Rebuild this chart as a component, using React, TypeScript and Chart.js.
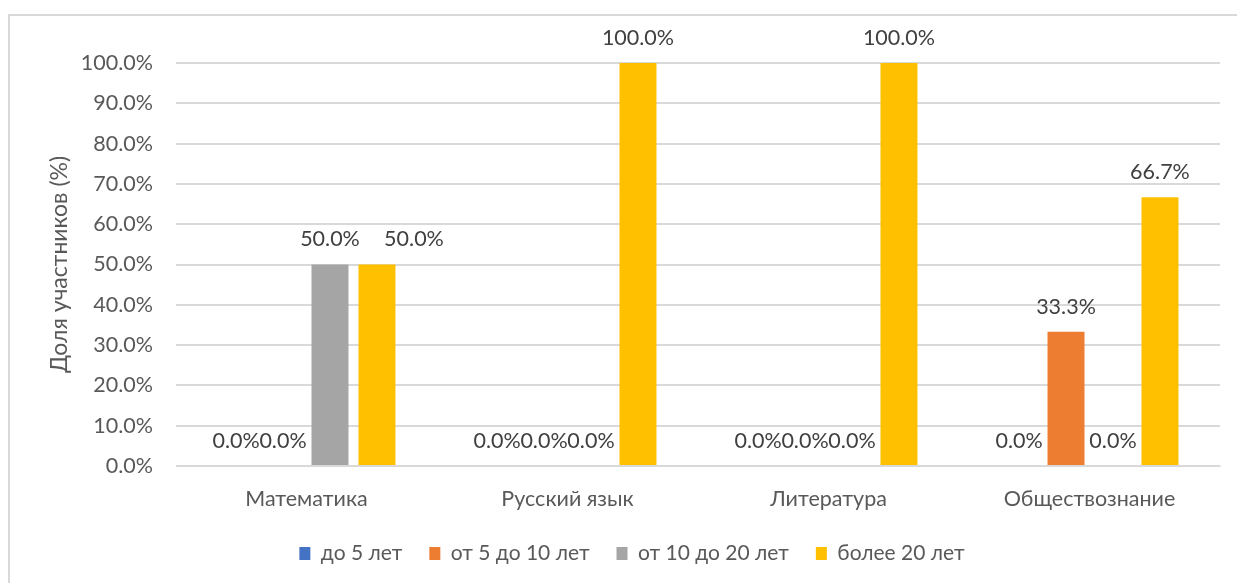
import React, { useEffect, useRef } from "react";
import { Chart, registerables } from "chart.js";

Chart.register(...registerables);

const categories = ["Математика", "Русский язык", "Литература", "Обществознание"];
const seriesNames = ["до 5 лет", "от 5 до 10 лет", "от 10 до 20 лет", "более 20 лет"];
const upTo5 = [0, 0, 0, 0];
const from5to10 = [0, 0, 0, 33.3];
const from10to20 = [50, 0, 0, 0];
const over20 = [50, 100, 100, 66.7];
const seriesColors = ["#4472C4", "#ED7D31", "#A5A5A5", "#FFC000"];
const yTicks = [0, 10, 20, 30, 40, 50, 60, 70, 80, 90, 100];
const yTitle = "Доля участников (%)";

const FONT = "Lato, 'Open Sans', sans-serif";

// label nudges (dataset index, point index) -> x shift in px, mimicking manually moved labels
const labelShift: Record<string, number> = { "3-0": 37 };

const labelPlugin = {
  id: "barLabels",
  afterDatasetsDraw(chart: any) {
    const ctx = chart.ctx;
    ctx.save();
    ctx.font = `21.5px ${FONT}`;
    ctx.fillStyle = "#404040";
    ctx.textAlign = "center";
    ctx.textBaseline = "middle";
    chart.data.datasets.forEach((ds: any, i: number) => {
      const meta = chart.getDatasetMeta(i);
      meta.data.forEach((el: any, j: number) => {
        const v = ds.data[j];
        const dx = labelShift[`${i}-${j}`] || 0;
        ctx.fillText(v.toFixed(1) + "%", el.x + dx, el.y - 25);
      });
    });
    ctx.restore();
  },
};

export default function App() {
  const ref = useRef<HTMLCanvasElement>(null);
  useEffect(() => {
    if (!ref.current) return;
    const data = [upTo5, from5to10, from10to20, over20];
    const chart = new Chart(ref.current, {
      type: "bar",
      data: {
        labels: categories,
        datasets: seriesNames.map((n, i) => ({
          label: n,
          data: data[i],
          backgroundColor: seriesColors[i],
          borderWidth: 0,
          barPercentage: 0.787,
          categoryPercentage: 0.72,
        })),
      },
      options: {
        animation: false,
        responsive: false,
        maintainAspectRatio: false,
        layout: { padding: { left: 44, right: 17, top: 63, bottom: 9 } },
        plugins: {
          legend: {
            position: "bottom",
            labels: {
              boxWidth: 11,
              boxHeight: 13,
              padding: 27,
              color: "#595959",
              font: { family: FONT, size: 21 },
            },
          },
          tooltip: { enabled: false },
        },
        scales: {
          x: {
            grid: { display: false, drawTicks: false },
            border: { color: "#d9d9d9" },
            ticks: { color: "#595959", font: { family: FONT, size: 21.5 }, padding: 20 },
            afterFit: (scale: any) => {
              scale.height = 50;
            },
          },
          y: {
            min: 0,
            max: 100,
            afterBuildTicks: (axis: any) => {
              axis.ticks = yTicks.map((v) => ({ value: v }));
            },
            afterFit: (scale: any) => {
              scale.width = 132;
            },
            grid: { color: "#d9d9d9", lineWidth: 2, drawTicks: false },
            border: { display: false },
            ticks: {
              color: "#595959",
              font: { family: FONT, size: 21.5 },
              padding: 23,
              callback: (v: any) => Number(v).toFixed(1) + "%",
            },
            title: {
              display: true,
              text: yTitle,
              color: "#595959",
              font: { family: FONT, size: 23 },
              padding: { top: 2, bottom: 4 },
            },
          },
        },
      },
      plugins: [labelPlugin],
    });
    return () => chart.destroy();
  }, []);
  return (
    <>
      <div
        style={{
          position: "fixed",
          left: 8,
          top: 14,
          width: 1240,
          height: 600,
          border: "2px solid #d9d9d9",
          boxSizing: "border-box",
        }}
      />
      <canvas
        ref={ref}
        width={1237}
        height={583}
        style={{ position: "fixed", left: 0, top: 0, width: 1237, height: 583 }}
      />
    </>
  );
}
